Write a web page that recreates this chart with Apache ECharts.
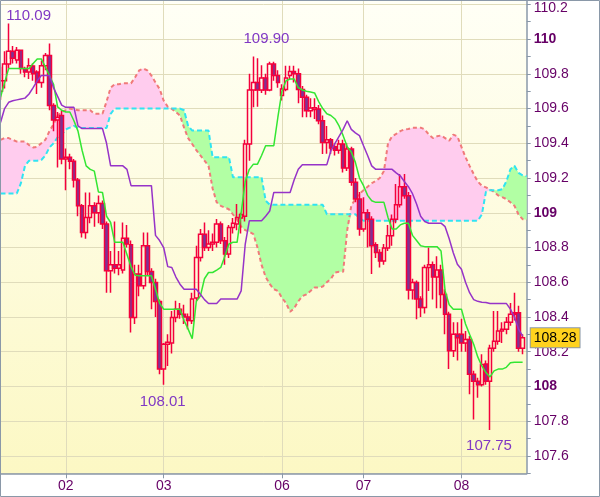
<!DOCTYPE html>
<html><head><meta charset="utf-8">
<script src="https://cdn.jsdelivr.net/npm/echarts@6/dist/echarts.min.js"></script>
<style>html,body{margin:0;padding:0;background:#fff}#c{width:600px;height:497px}</style>
</head><body><div id="c"></div>
<script>
// ---- data ----
const dayIndex = [16, 40, 69, 89, 113];
const dayLabels = ['02', '03', '06', '07', '08'];
const slotCount = 130;
const yMin = 107.5, yMax = 110.225;
const lastPrice = 108.28;
const extremeIdx = [2, 62, 40, 120];
const extremeVal = [110.09, 109.90, 108.01, 107.75];
const extremeText = ['110.09', '109.90', '108.01', '107.75'];

// [open, high, low, close]
const ohlc = [
[109.70,109.84,109.65,109.76],[109.76,109.93,109.715,109.857],[109.857,110.09,109.83,109.93],[109.93,109.96,109.86,109.89],
[109.88,109.955,109.86,109.935],[109.935,109.94,109.80,109.83],[109.83,109.84,109.78,109.81],[109.81,109.89,109.77,109.847],
[109.845,109.86,109.76,109.80],[109.81,109.82,109.684,109.75],[109.75,109.876,109.72,109.847],[109.847,109.92,109.82,109.905],
[109.905,109.975,109.59,109.617],[109.617,109.63,109.47,109.534],[109.534,109.58,109.26,109.55],[109.56,109.59,109.28,109.31],
[109.31,109.37,109.13,109.32],[109.32,109.34,109.25,109.296],[109.296,109.31,109.146,109.188],[109.188,109.20,108.98,109.04],
[109.04,109.05,108.858,108.886],[108.886,109.117,108.85,108.973],[108.973,109.117,108.94,109.04],[109.04,109.06,108.92,109.0],
[109.0,109.10,108.94,109.054],[109.054,109.07,108.906,108.935],[108.935,108.95,108.54,108.666],[108.666,108.78,108.54,108.70],
[108.70,108.95,108.65,108.68],[108.68,108.78,108.64,108.70],[108.67,108.944,108.65,108.854],[108.854,108.93,108.80,108.82],
[108.816,108.84,108.31,108.397],[108.397,108.70,108.36,108.647],[108.647,108.70,108.52,108.58],[108.58,108.886,108.56,108.81],
[108.81,108.886,108.64,108.662],[108.662,108.68,108.445,108.598],[108.598,108.62,108.40,108.489],[108.489,108.50,108.07,108.10],
[108.10,108.25,108.01,108.243],[108.243,108.30,108.118,108.255],[108.25,108.435,108.19,108.397],[108.397,108.493,108.37,108.445],
[108.445,108.48,108.39,108.416],[108.416,108.47,108.36,108.40],[108.40,108.42,108.33,108.38],[108.378,108.54,108.36,108.503],
[108.51,108.81,108.49,108.742],[108.742,108.906,108.72,108.877],[108.877,108.944,108.78,108.80],[108.80,108.90,108.78,108.82],
[108.82,108.88,108.78,108.83],[108.83,108.964,108.80,108.935],[108.935,108.95,108.82,108.839],[108.839,108.86,108.70,108.762],
[108.762,108.93,108.74,108.915],[108.915,108.97,108.88,108.94],[108.935,109.05,108.90,108.973],[108.97,109.00,108.88,108.99],
[108.98,109.42,108.95,109.396],[109.396,109.80,109.30,109.707],[109.707,109.90,109.607,109.75],[109.75,109.89,109.61,109.707],
[109.707,109.85,109.69,109.776],[109.776,109.80,109.68,109.707],[109.707,109.87,109.70,109.857],[109.857,109.87,109.76,109.79],
[109.79,109.82,109.72,109.75],[109.675,109.74,109.646,109.713],[109.71,109.847,109.70,109.776],[109.79,109.847,109.77,109.814],
[109.814,109.847,109.75,109.80],[109.80,109.83,109.63,109.71],[109.71,109.73,109.55,109.665],[109.665,109.68,109.55,109.588],
[109.588,109.66,109.55,109.603],[109.595,109.66,109.54,109.605],[109.598,109.62,109.51,109.53],[109.53,109.56,109.338,109.405],
[109.405,109.50,109.34,109.42],[109.42,109.43,109.338,109.373],[109.38,109.40,109.33,109.36],[109.36,109.42,109.34,109.396],
[109.396,109.42,109.232,109.258],[109.258,109.40,109.24,109.367],[109.367,109.38,109.156,109.175],[109.175,109.20,109.06,109.079],
[109.079,109.12,108.867,108.906],[108.906,109.09,108.89,109.0],[109.0,109.02,108.80,108.963],[108.963,108.98,108.647,108.81],
[108.816,108.83,108.74,108.771],[108.771,108.79,108.685,108.723],[108.723,108.82,108.70,108.797],[108.797,108.93,108.78,108.867],
[108.867,108.99,108.81,108.963],[108.963,109.165,108.94,109.046],[109.046,109.223,109.03,109.15],[109.15,109.223,109.08,109.098],
[109.098,109.12,108.50,108.555],[108.555,108.62,108.50,108.598],[108.598,108.61,108.387,108.503],[108.503,108.52,108.40,108.455],
[108.455,108.70,108.42,108.685],[108.685,108.80,108.55,108.70],[108.70,108.72,108.50,108.63],[108.63,108.75,108.45,108.67],
[108.67,108.70,108.45,108.53],[108.53,108.56,108.30,108.416],[108.416,108.43,108.10,108.205],[108.205,108.37,108.17,108.30],
[108.30,108.37,108.15,108.28],[108.30,108.39,108.20,108.25],[108.25,108.32,108.20,108.27],[108.27,108.29,107.955,108.07],
[108.07,108.09,107.81,108.03],[108.03,108.05,107.935,108.01],[108.01,108.185,108.00,108.126],[108.13,108.15,108.01,108.03],
[108.03,108.24,107.75,108.22],[108.22,108.435,108.20,108.26],[108.26,108.435,108.24,108.32],[108.32,108.37,108.25,108.33],
[108.33,108.40,108.30,108.37],[108.37,108.48,108.35,108.416],[108.416,108.54,108.38,108.425],[108.425,108.464,108.20,108.22],
[108.22,108.30,108.185,108.28]
];

const tenkan = [
109.665,109.75,109.83,109.83,109.83,109.83,109.83,109.83,109.86,109.886,
109.886,109.84,109.79,109.74,109.61,109.59,109.58,109.58,109.53,109.47,
109.36,109.27,109.25,109.24,109.12,109.117,108.98,108.944,108.83,108.83,
108.83,108.76,108.69,108.64,108.637,108.637,108.637,108.637,108.56,108.48,
108.445,108.445,108.445,108.445,108.445,108.38,108.33,108.275,108.49,108.52,
108.62,108.656,108.656,108.67,108.685,108.75,108.82,108.83,108.83,109.0,
109.18,109.25,109.28,109.28,109.33,109.386,109.386,109.386,109.55,109.70,
109.76,109.77,109.77,109.72,109.707,109.70,109.695,109.69,109.64,109.60,
109.57,109.56,109.54,109.50,109.444,109.38,109.35,109.29,109.20,109.156,
109.10,109.069,109.06,109.06,109.06,108.973,108.906,108.906,108.93,108.94,
108.94,108.87,108.84,108.81,108.805,108.805,108.805,108.805,108.78,108.55,
108.47,108.445,108.445,108.445,108.36,108.30,108.243,108.17,108.118,108.08,
108.055,108.09,108.10,108.10,108.11,108.137,108.14,108.14,108.14
];

const kijun = [
109.52,109.60,109.636,109.645,109.65,109.655,109.66,109.684,109.72,109.76,
109.79,109.79,109.79,109.72,109.67,109.62,109.607,109.607,109.607,109.50,
109.485,109.485,109.485,109.485,109.485,109.485,109.40,109.27,109.27,109.27,
109.27,109.25,109.156,109.156,109.156,109.156,109.156,109.156,108.87,108.84,
108.80,108.69,108.685,108.63,108.589,108.56,108.56,108.56,108.56,108.531,
108.50,108.478,108.478,108.478,108.503,108.503,108.503,108.503,108.503,108.55,
108.82,108.954,108.954,108.954,108.954,108.98,109.01,109.117,109.117,109.117,
109.117,109.117,109.19,109.25,109.277,109.277,109.277,109.277,109.277,109.277,
109.277,109.357,109.40,109.44,109.48,109.53,109.48,109.46,109.444,109.386,
109.33,109.27,109.25,109.25,109.25,109.25,109.25,109.23,109.213,109.18,
109.15,109.11,109.05,108.98,108.95,108.94,108.94,108.94,108.94,108.92,
108.85,108.77,108.704,108.675,108.60,108.54,108.50,108.49,108.485,108.483,
108.478,108.478,108.478,108.478,108.478,108.445,108.40,108.33,108.29
];

const spanA = [
109.42,109.43,109.43,109.42,109.41,109.41,109.41,109.39,109.376,109.38,
109.40,109.42,109.47,109.51,109.56,109.58,109.59,109.60,109.595,109.59,
109.59,109.59,109.59,109.57,109.57,109.57,109.64,109.72,109.74,109.74,
109.745,109.745,109.745,109.78,109.82,109.83,109.82,109.79,109.75,109.713,
109.646,109.61,109.598,109.58,109.56,109.49,109.43,109.396,109.36,109.33,
109.30,109.27,109.14,109.06,109.04,109.03,109.02,108.99,108.96,108.92,
108.90,108.89,108.877,108.80,108.70,108.63,108.59,108.56,108.55,108.51,
108.48,108.43,108.45,108.49,108.52,108.53,108.55,108.57,108.57,108.575,
108.60,108.62,108.656,108.66,108.66,108.90,109.04,109.08,109.11,109.13,
109.15,109.17,109.184,109.20,109.24,109.40,109.44,109.454,109.47,109.48,
109.482,109.49,109.49,109.49,109.48,109.45,109.43,109.44,109.445,109.43,
109.415,109.45,109.44,109.38,109.32,109.27,109.223,109.18,109.156,109.146,
109.135,109.12,109.10,109.09,109.079,109.06,109.04,108.99,108.963,108.96
];

const spanB = [
109.111,109.111,109.111,109.111,109.111,109.17,109.27,109.30,109.30,109.30,
109.304,109.33,109.376,109.40,109.434,109.45,109.48,109.49,109.50,109.488,
109.488,109.488,109.488,109.488,109.488,109.488,109.488,109.57,109.60,109.60,
109.60,109.60,109.60,109.60,109.60,109.60,109.60,109.60,109.60,109.60,
109.60,109.60,109.60,109.60,109.60,109.59,109.50,109.473,109.473,109.473,
109.473,109.473,109.32,109.32,109.32,109.32,109.32,109.204,109.204,109.204,
109.204,109.204,109.204,109.204,109.204,109.07,109.046,109.046,109.046,109.046,
109.046,109.046,109.046,109.046,109.046,109.046,109.046,109.046,109.046,109.046,
108.992,108.992,108.992,108.992,108.992,108.992,108.992,108.992,108.97,108.954,
108.954,108.954,108.954,108.954,108.954,108.954,108.954,108.954,108.954,108.954,
108.954,108.954,108.954,108.954,108.954,108.954,108.954,108.954,108.954,108.954,
108.954,108.954,108.954,108.954,108.954,108.954,108.954,108.954,108.99,109.12,
109.13,109.13,109.13,109.135,109.18,109.25,109.27,109.23,109.215,109.21
];

// ---- build ----
const FONT = '"Liberation Sans", Arial, sans-serif';
const categories = Array.from({length: slotCount}, (_, i) => {
  const d = dayIndex.indexOf(i);
  return d >= 0 ? dayLabels[d] : 'h' + i;
});
const isDay = (i) => dayIndex.indexOf(i) >= 0;
const candleData = ohlc.map(r => [r[0], r[3], r[2], r[1]]);
const cloudLow = spanA.map((a, i) => Math.min(a, spanB[i]));
const pinkBand = spanA.map((a, i) => Math.max(a - spanB[i], 0));
const greenBand = spanA.map((a, i) => Math.max(spanB[i] - a, 0));
const labelOffsets = [[20, -8], [13, -18], [-1, 17], [-1, 16]];

const AX = '#8a98a8';
const GRID = '#e0dcbb';
const TXT = '#660066';

const chart = echarts.init(document.getElementById('c'), null, {renderer: 'canvas'});
chart.setOption({
  animation: false,
  backgroundColor: '#ffffff',
  textStyle: {fontFamily: FONT},
  grid: {
    left: 0.5, right: 73.3, top: 0, bottom: 23.7,
    show: true, borderWidth: 0, outerBoundsMode: 'none', containLabel: false,
    backgroundColor: {type: 'linear', x: 0, y: 0, x2: 0, y2: 1,
      colorStops: [{offset: 0, color: '#fffff6'}, {offset: 1, color: '#fcf8c4'}]}
  },
  xAxis: {
    type: 'category', data: categories, boundaryGap: false,
    axisLine: {show: true, lineStyle: {color: AX, width: 1.5}},
    axisTick: {show: true, interval: isDay, length: 5, lineStyle: {color: AX}},
    axisLabel: {interval: isDay, margin: 6, color: TXT, fontSize: 14, fontFamily: FONT,
      formatter: (v) => v},
    splitLine: {show: true, interval: isDay, lineStyle: {color: GRID, width: 1}}
  },
  yAxis: {
    type: 'value', position: 'right', min: yMin, max: yMax, scale: true,
    splitNumber: 14, minInterval: 0.2, maxInterval: 0.2,
    axisLine: {show: true, lineStyle: {color: AX, width: 1.5}},
    axisTick: {show: true, length: 4, lineStyle: {color: AX}},
    minorTick: {show: true, splitNumber: 2, length: 4, lineStyle: {color: AX}},
    splitLine: {show: true, lineStyle: {color: GRID, width: 1}},
    axisLabel: {
      margin: 7, color: TXT, fontSize: 14, fontFamily: FONT,
      showMinLabel: false, showMaxLabel: false,
      formatter: (v) => {
        const r = Math.round(v * 10) / 10;
        if (Math.abs(r - Math.round(r)) < 1e-9) return '{b|' + Math.round(r) + '}';
        if (r > 110.15) return '{t|' + r.toFixed(1) + '}';
        return r.toFixed(1);
      },
      rich: {
        b: {fontWeight: 'bold', fontSize: 14, color: TXT, fontFamily: FONT},
        t: {fontSize: 14, color: TXT, fontFamily: FONT, padding: [8, 0, 0, 0]}
      }
    }
  },
  graphic: [{
    type: 'rect', silent: true, z: 100,
    shape: {x: 0.5, y: 0.5, width: 599, height: 496},
    style: {fill: 'none', stroke: AX, lineWidth: 1}
  }],
  series: [
    {type: 'line', name: 'baseP', data: cloudLow, stack: 'p', symbol: 'none', silent: true, z: 1,
      lineStyle: {opacity: 0}},
    {type: 'line', name: 'pink', data: pinkBand, stack: 'p', symbol: 'none', silent: true, z: 1,
      lineStyle: {opacity: 0}, areaStyle: {color: '#ffccee', opacity: 1}},
    {type: 'line', name: 'baseG', data: cloudLow, stack: 'g', symbol: 'none', silent: true, z: 1,
      lineStyle: {opacity: 0}},
    {type: 'line', name: 'green', data: greenBand, stack: 'g', symbol: 'none', silent: true, z: 1,
      lineStyle: {opacity: 0}, areaStyle: {color: '#b2ffa4', opacity: 1}},
    {type: 'line', name: 'spanA', data: spanA, symbol: 'none', silent: true, z: 2,
      lineStyle: {color: '#f07a7a', width: 2, type: [4, 3]}},
    {type: 'line', name: 'spanB', data: spanB, symbol: 'none', silent: true, z: 2,
      lineStyle: {color: '#30e4f2', width: 2, type: [5, 3]}},
    {type: 'candlestick', name: 'price', data: candleData, z: 3, barWidth: 4, silent: true,
      itemStyle: {color: 'rgba(255,255,255,0)', color0: '#7e3294',
        borderColor: '#f4003c', borderColor0: '#f4003c', borderWidth: 1.5},
      markPoint: {
        symbol: 'circle', symbolSize: 1, silent: true,
        itemStyle: {color: 'rgba(0,0,0,0)'},
        label: {show: true, position: 'inside', color: '#8038c4', fontSize: 15, fontFamily: FONT},
        data: extremeIdx.map((k, i) => ({
          coord: [categories[k], extremeVal[i]], value: extremeVal[i],
          label: {formatter: extremeText[i], offset: labelOffsets[i]}
        }))
      },
      markLine: {
        silent: true, symbol: ['none', 'none'],
        lineStyle: {color: 'rgba(0,0,0,0)', width: 1, type: 'solid'},
        data: [{yAxis: lastPrice}],
        label: {show: true, position: 'end', distance: 4, formatter: lastPrice.toFixed(2),
          backgroundColor: '#ffd21e', borderColor: AX, borderWidth: 1, padding: [3, 3, 2, 3],
          color: '#000000', fontSize: 14, fontFamily: FONT}
      }
    },
    {type: 'line', name: 'tenkan', data: tenkan, symbol: 'none', silent: true, z: 4,
      lineStyle: {color: '#33e633', width: 1.5}},
    {type: 'line', name: 'kijun', data: kijun, symbol: 'none', silent: true, z: 4,
      lineStyle: {color: '#9633c8', width: 1.5}}
  ]
});
</script>
</body></html>
